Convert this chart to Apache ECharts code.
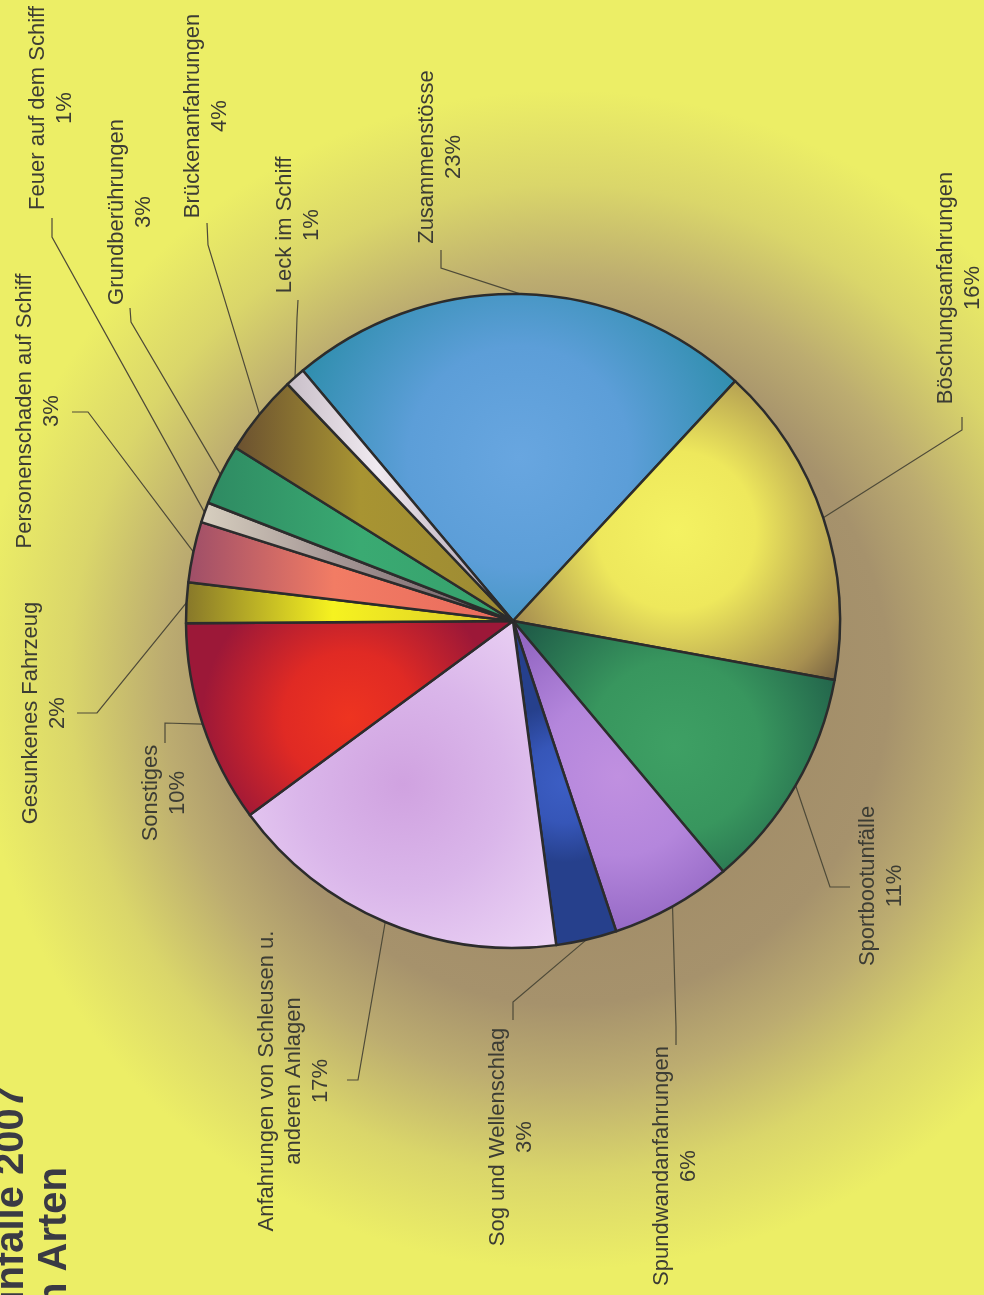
<!DOCTYPE html>
<html>
<head>
<meta charset="utf-8">
<script src="https://cdn.jsdelivr.net/npm/echarts@6/dist/echarts.min.js"></script>
<style>
  html, body { margin: 0; padding: 0; }
  #main { width: 984px; height: 1295px; }
</style>
</head>
<body>
<div id="main"></div>
<script>
  // Unfallarten (Anteile in %), im Uhrzeigersinn ab Zusammenstösse
  var categories = ['Zusammenstösse', 'Böschungsanfahrungen', 'Sportbootunfälle', 'Spundwandanfahrungen',
    'Sog und Wellenschlag', 'Anfahrungen von Schleusen u.\nanderen Anlagen', 'Sonstiges',
    'Gesunkenes Fahrzeug', 'Personenschaden auf Schiff', 'Feuer auf dem Schiff',
    'Grundberührungen', 'Brückenanfahrungen', 'Leck im Schiff'];
  var shares = [23, 16, 11, 6, 3, 17, 10, 2, 3, 1, 3, 4, 1];
  var titleLines = ['Schiffsunfälle 2007', 'nach Arten'];

  // Farbverlauf je Segment: radial (Mitte -> Rand) oder linear (Kreisrand links -> Mitte)
  var sliceStyles = [
    { t: 'radial', s: [[0, '#68a6e0'], [0.45, '#5c9ed8'], [1, '#2a8ca8']] },
    { t: 'radial', s: [[0, '#f4f262'], [0.35, '#eee85c'], [0.8, '#a89050'], [1, '#6c5840']] },
    { t: 'radial', s: [[0, '#3ea064'], [0.45, '#38965e'], [1, '#1f5c48']] },
    { t: 'radial', s: [[0, '#c090e0'], [0.5, '#b486dc'], [1, '#9468c4']] },
    { t: 'radial', s: [[0, '#3c5ec4'], [0.5, '#3656b8'], [1, '#26408c']] },
    { t: 'radial', s: [[0, '#d0a2e0'], [0.45, '#dab6ea'], [1, '#eed8f6']] },
    { t: 'radial', s: [[0, '#ee3420'], [0.45, '#e02a24'], [1, '#9c1838']] },
    { t: 'linear', s: [[0, '#86762a'], [0.45, '#f6f220'], [1, '#d8c828']] },
    { t: 'linear', s: [[0, '#9e4e68'], [0.45, '#f27c64'], [1, '#e86a5c']] },
    { t: 'linear', s: [[0, '#d8d0c0'], [0.4, '#a89a98'], [1, '#6a5860']] },
    { t: 'linear', s: [[0, '#2e8a62'], [0.5, '#3aaa72'], [1, '#36a06c']] },
    { t: 'linear', s: [[0, '#6a5030'], [0.45, '#a89432'], [1, '#9c8a34']] },
    { t: 'linear', s: [[0, '#c8bec8'], [0.4, '#f0eaf0'], [1, '#a898a8']] }
  ];

  // Beschriftungen: Mittelpunkt des Textblocks, Knick und Ende der Führungslinie
  var labelPos = [
    { c: [440, 157], b: [441, 268], e: [441, 250] },
    { c: [959, 288], b: [962, 430], e: [962, 417] },
    { c: [881, 886], b: [830, 887], e: [850, 887] },
    { c: [675, 1166], b: [676, 1027], e: [676, 1045] },
    { c: [511, 1137], b: [513, 1002], e: [513, 1020] },
    { c: [294, 1081], b: [358, 1080], e: [347, 1080] },
    { c: [164, 793], b: [165, 723], e: [165, 743] },
    { c: [44, 713], b: [97, 713], e: [77, 713] },
    { c: [38, 411], b: [88, 412], e: [72, 412] },
    { c: [51, 108], b: [52, 237], e: [52, 218] },
    { c: [130, 212], b: [131, 322], e: [130, 308] },
    { c: [206, 116], b: [208, 245], e: [207, 223] },
    { c: [298, 225], b: [297, 318], e: [298, 300] }
  ];

  var cx = 513, cy = 621, R = 327, startAngle = 130;

  function makeFill(st) {
    var stops = st.s.map(function (p) { return { offset: p[0], color: p[1] }; });
    if (st.t === 'linear') {
      return { type: 'linear', x: 0, y: 0, x2: 1, y2: 0, colorStops: stops };
    }
    return { type: 'radial', x: 0.5, y: 0.5, r: 0.75, colorStops: stops };
  }

  var pieData = categories.map(function (name, i) {
    return { name: name, value: shares[i], itemStyle: { color: makeFill(sliceStyles[i]) } };
  });

  var total = shares.reduce(function (a, b) { return a + b; }, 0);
  function edgePoint(i) {
    var before = 0;
    for (var k = 0; k < i; k++) before += shares[k];
    var mid = (startAngle - (before + shares[i] / 2) / total * 360) * Math.PI / 180;
    return [cx + R * Math.cos(mid), cy - R * Math.sin(mid)];
  }

  var titleFont = 'bold 40px "Liberation Sans", Arial';

  var myChart = echarts.init(document.getElementById('main'));
  myChart.setOption({
    animation: false,
    backgroundColor: {
      type: 'radial', x: 565, y: 680, r: 590, global: true,
      colorStops: [
        { offset: 0, color: '#9a8462' },
        { offset: 0.55, color: '#a6926c' },
        { offset: 0.68, color: '#bcac70' },
        { offset: 0.84, color: '#dad66a' },
        { offset: 1, color: '#ecee66' }
      ]
    },
    graphic: [
      {
        type: 'text', x: 12, y: 1086, rotation: Math.PI / 2,
        style: { text: titleLines[0], font: titleFont, fill: '#3a3a44', align: 'right', verticalAlign: 'middle' }
      },
      {
        type: 'text', x: 55, y: 1167, rotation: Math.PI / 2,
        style: { text: titleLines[1], font: titleFont, fill: '#3a3a44', align: 'right', verticalAlign: 'middle' }
      }
    ],
    series: [{
      type: 'pie',
      center: [cx, cy],
      radius: R,
      startAngle: startAngle,
      clockwise: true,
      avoidLabelOverlap: false,
      silent: true,
      itemStyle: { borderColor: '#2c2c2c', borderWidth: 2.5 },
      label: {
        show: true,
        rotate: 90,
        fontFamily: '"Liberation Sans", Arial',
        fontSize: 22,
        lineHeight: 27,
        color: '#3c3c34',
        align: 'center',
        formatter: function (p) { return p.name + '\n' + p.value + '%'; }
      },
      labelLine: { show: true, lineStyle: { color: '#4e4a38', width: 1.2 } },
      labelLayout: function (params) {
        var pos = labelPos[params.dataIndex];
        var pts = params.labelLinePoints;
        var edge = pts ? pts[0] : edgePoint(params.dataIndex);
        return {
          x: pos.c[0],
          y: pos.c[1],
          rotate: 90,
          align: 'center',
          verticalAlign: 'middle',
          labelLinePoints: [edge, pos.b, pos.e]
        };
      },
      data: pieData
    }]
  });
</script>
</body>
</html>
